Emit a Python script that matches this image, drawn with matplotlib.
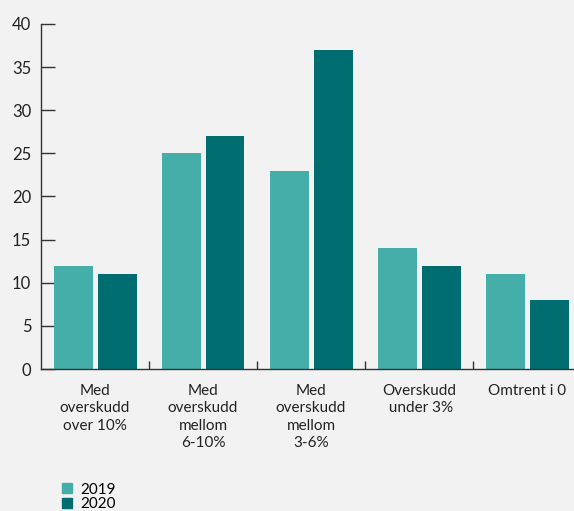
import numpy as np
import matplotlib.pyplot as plt
from matplotlib.patches import Patch

plt.rcParams['font.family'] = ['Lato', 'DejaVu Sans']

# kategorier og andeler (prosent)
kategorier = ["Med\noverskudd\nover 10%", "Med\noverskudd\nmellom\n6-10%",
              "Med\noverskudd\nmellom\n3-6%", "Overskudd\n under 3%", "Omtrent i 0"]
verdier_2019 = [12, 25, 23, 14, 11]
verdier_2020 = [11, 27, 37, 12, 8]
yticks = [0, 5, 10, 15, 20, 25, 30, 35, 40]

farge_2019 = '#45aea8'
farge_2020 = '#006e71'
bakgrunn = '#f2f2f2'

W, H = 574, 511
fig = plt.figure(figsize=(W / 100, H / 100), dpi=100, facecolor=bakgrunn)
# aksen går litt ut over høyre kant
left, right, top, bottom = 41, 581, 24, 369
ax = fig.add_axes([left / W, 1 - bottom / H, (right - left) / W, (bottom - top) / H])
ax.set_facecolor(bakgrunn)

x = np.arange(len(kategorier))
bw = 39 / 108
gap = 5 / 108
ax.bar(x - (bw + gap) / 2, verdier_2019, width=bw, color=farge_2019, zorder=2)
ax.bar(x + (bw + gap) / 2, verdier_2020, width=bw, color=farge_2020, zorder=2)

ax.set_xlim(-0.5, len(kategorier) - 0.5)
ax.set_ylim(0, 40)

for s in ['top', 'right']:
    ax.spines[s].set_visible(False)
for s in ['left', 'bottom']:
    ax.spines[s].set_color('#333333')
    ax.spines[s].set_linewidth(1.0)

ax.set_yticks(yticks)
ax.tick_params(axis='y', direction='in', length=10, width=1.0, color='#333333',
               labelsize=12, labelcolor='#222222', pad=7)

# skillelinjer mellom kategoriene
ax.set_xticks(np.arange(len(kategorier) - 1) + 0.5)
ax.set_xticklabels([])
ax.tick_params(axis='x', direction='in', length=6, width=1.0, color='#333333')

for i, k in enumerate(kategorier):
    ax.text(i, -1.7, k, ha='center', va='top', fontsize=11, color='#222222',
            linespacing=1.32, transform=ax.transData)

handles = [Patch(color=farge_2019, label='2019'), Patch(color=farge_2020, label='2020')]
fig.legend(handles=handles, loc='upper left', bbox_to_anchor=(54 / W, 1 - 475 / H),
           frameon=False, fontsize=11, handlelength=0.65, handleheight=0.65,
           handletextpad=0.55, labelspacing=0.05, borderpad=0)

fig.savefig('out.png', dpi=100, facecolor=bakgrunn)
